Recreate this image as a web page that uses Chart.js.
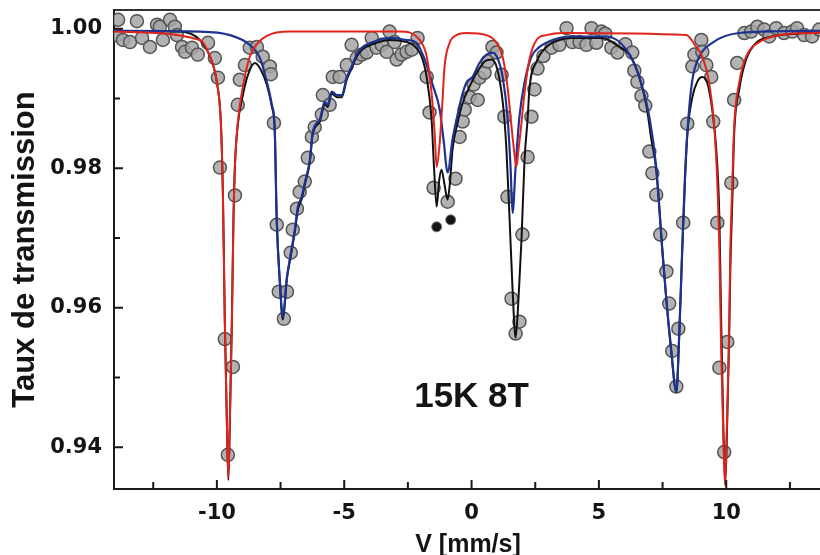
<!DOCTYPE html>
<html>
<head>
<meta charset="utf-8">
<script src="https://cdn.jsdelivr.net/npm/chart.js@4.4.0/dist/chart.umd.min.js"></script>
<style>
  html, body { margin: 0; padding: 0; background: #fff; overflow: hidden; width: 820px; height: 555px; }
  #wrap { width: 820px; height: 555px; overflow: hidden; position: relative; }
  #grafico { position: absolute; left: 0; top: 0; }
</style>
</head>
<body>
<div id="wrap"><canvas id="grafico" width="830" height="555"></canvas></div>
<script>
// Puntos experimentales (V en mm/s, taux de transmission)
const velocidad = [-13.92,-13.88,-13.69,-13.41,-13.14,-12.94,-12.63,-12.35,-12.24,-12.12,-11.84,-11.65,-11.57,-11.37,-11.25,-10.98,-10.75,-10.35,-10.08,-9.96,-9.88,-9.69,-9.57,-9.37,-9.29,-9.18,-9.10,-8.90,-8.71,-8.43,-8.20,-7.92,-7.88,-7.76,-7.65,-7.57,-7.37,-7.25,-7.10,-7.02,-6.86,-6.75,-6.55,-6.43,-6.27,-6.16,-5.88,-5.84,-5.57,-5.45,-5.18,-4.90,-4.71,-4.51,-4.31,-4.12,-3.92,-3.73,-3.53,-3.33,-3.22,-3.02,-2.94,-2.75,-2.55,-2.35,-2.12,-1.76,-1.65,-1.49,-0.94,-0.63,-0.47,-0.35,-0.27,-0.08,0.08,0.24,0.31,0.51,0.63,0.82,0.98,1.18,1.29,1.41,1.57,1.73,1.88,2.00,2.20,2.35,2.47,2.59,2.82,3.14,3.45,3.73,3.96,4.24,4.51,4.71,4.90,5.10,5.25,5.49,5.73,6.04,6.31,6.39,6.51,6.67,6.82,6.98,7.10,7.25,7.41,7.65,7.76,7.88,8.04,8.12,8.31,8.47,8.67,8.75,9.02,9.06,9.22,9.41,9.49,9.65,9.73,9.92,10.04,10.20,10.31,10.43,10.71,10.98,11.22,11.49,11.69,11.96,12.27,12.59,12.78,13.06,13.37,13.65];
const transmision = [0.9991,1.0013,0.9984,0.9981,1.0011,0.9987,0.9974,1.0006,1.0003,0.9984,1.0013,1.0003,0.9991,0.9974,0.9967,0.9973,0.9963,0.9980,0.9958,0.9930,0.9801,0.9555,0.9389,0.9515,0.9761,0.9891,0.9927,0.9948,0.9973,0.9974,0.9960,0.9946,0.9935,0.9865,0.9719,0.9623,0.9584,0.9623,0.9679,0.9712,0.9742,0.9766,0.9781,0.9815,0.9845,0.9859,0.9877,0.9905,0.9891,0.9931,0.9931,0.9948,0.9977,0.9958,0.9963,0.9966,0.9987,0.9973,0.9977,0.9967,0.9996,0.9981,0.9956,0.9963,0.9967,0.9970,0.9987,0.9931,0.9880,0.9772,0.9752,0.9785,0.9845,0.9867,0.9884,0.9902,0.9920,0.9898,0.9930,0.9937,0.9953,0.9974,0.9966,0.9934,0.9874,0.9759,0.9613,0.9563,0.9580,0.9705,0.9816,0.9874,0.9913,0.9943,0.9961,0.9973,0.9977,1.0001,0.9981,0.9981,0.9977,1.0001,0.9980,0.9996,0.9993,0.9973,0.9966,0.9978,0.9966,0.9940,0.9924,0.9904,0.9890,0.9824,0.9793,0.9762,0.9705,0.9652,0.9606,0.9538,0.9487,0.9570,0.9722,0.9864,0.9946,0.9963,0.9984,0.9967,0.9948,0.9931,0.9867,0.9722,0.9514,0.9393,0.9551,0.9779,0.9898,0.9951,0.9994,0.9996,1.0003,0.9999,0.9989,1.0001,0.9994,0.9996,1.0001,0.9991,0.9989,0.9999];

// Raies marquées (●)
const marcasV = [-1.37, -0.82];
const marcasT = [0.9716, 0.9726];

// Sous-spectre rouge
const rojoV = [-14.04,-10.67,-10.27,-10.00,-9.84,-9.76,-9.69,-9.61,-9.55,-9.49,-9.41,-9.35,-9.29,-9.18,-8.98,-8.71,-8.43,-8.04,-7.14,-2.82,-2.04,-1.76,-1.57,-1.45,-1.37,-1.25,-1.14,-1.06,-0.86,-0.59,-0.20,0.59,0.98,1.22,1.41,1.57,1.69,1.76,1.84,1.92,2.08,2.27,2.55,2.94,3.57,8.43,8.82,9.06,9.33,9.53,9.65,9.73,9.80,9.88,9.95,10.02,10.10,10.16,10.24,10.31,10.51,10.78,11.29,12.08,13.37,14.04];
const rojoT = [0.9996,0.9984,0.9960,0.9923,0.9862,0.9755,0.9583,0.9439,0.9356,0.9439,0.9583,0.9726,0.9805,0.9865,0.9917,0.9960,0.9978,0.9990,0.9996,0.9996,0.9984,0.9960,0.9908,0.9851,0.9802,0.9837,0.9898,0.9946,0.9980,0.9991,0.9994,0.9991,0.9980,0.9960,0.9917,0.9859,0.9819,0.9802,0.9826,0.9851,0.9908,0.9956,0.9984,0.9991,0.9994,0.9991,0.9974,0.9960,0.9923,0.9859,0.9779,0.9683,0.9540,0.9425,0.9346,0.9425,0.9540,0.9683,0.9779,0.9859,0.9923,0.9960,0.9981,0.9991,0.9994,0.9995];

// Sous-spectre bleu
const azulV = [-14.04,-10.67,-9.49,-8.71,-8.31,-8.04,-7.84,-7.73,-7.65,-7.53,-7.41,-7.25,-7.14,-6.94,-6.82,-6.67,-6.55,-6.35,-6.24,-5.96,-5.76,-5.65,-5.49,-5.29,-5.10,-4.90,-4.71,-4.51,-4.27,-3.88,-3.22,-2.55,-2.16,-1.84,-1.53,-1.25,-1.10,-0.94,-0.75,-0.59,-0.39,-0.20,0.04,0.31,0.59,0.82,1.02,1.22,1.41,1.53,1.61,1.73,1.88,2.08,2.35,2.67,3.18,3.84,5.29,6.08,6.59,6.98,7.25,7.49,7.65,7.84,8.04,8.16,8.27,8.39,8.51,8.67,8.94,9.45,10.51,13.37,14.04];
const azulT = [0.9997,0.9996,0.9991,0.9977,0.9958,0.9924,0.9891,0.9858,0.9726,0.9640,0.9587,0.9644,0.9669,0.9712,0.9745,0.9759,0.9779,0.9812,0.9851,0.9870,0.9895,0.9891,0.9910,0.9905,0.9905,0.9930,0.9946,0.9963,0.9974,0.9981,0.9987,0.9984,0.9980,0.9956,0.9920,0.9884,0.9841,0.9794,0.9841,0.9870,0.9902,0.9923,0.9931,0.9951,0.9963,0.9966,0.9958,0.9931,0.9874,0.9802,0.9736,0.9802,0.9874,0.9923,0.9960,0.9974,0.9984,0.9989,0.9989,0.9970,0.9931,0.9874,0.9802,0.9683,0.9611,0.9540,0.9479,0.9568,0.9683,0.9798,0.9870,0.9927,0.9960,0.9980,0.9994,0.9997,0.9997];

// Ajustement total
const totalV = [-14.04,-11.45,-10.67,-10.27,-10.00,-9.84,-9.76,-9.69,-9.61,-9.55,-9.49,-9.41,-9.35,-9.29,-9.18,-8.98,-8.78,-8.51,-8.27,-8.04,-7.84,-7.73,-7.65,-7.53,-7.41,-7.25,-7.14,-6.94,-6.82,-6.67,-6.55,-6.35,-6.24,-5.96,-5.76,-5.65,-5.49,-5.29,-5.10,-4.90,-4.71,-4.51,-4.27,-3.88,-3.22,-2.55,-2.31,-1.96,-1.76,-1.57,-1.47,-1.37,-1.27,-1.18,-1.06,-0.94,-0.84,-0.75,-0.55,-0.35,-0.08,0.20,0.51,0.78,0.98,1.18,1.29,1.37,1.49,1.61,1.73,1.84,1.96,2.08,2.20,2.27,2.55,2.94,3.45,3.96,5.14,5.80,6.20,6.59,6.86,7.06,7.25,7.49,7.65,7.84,8.04,8.16,8.27,8.39,8.47,8.67,8.86,9.06,9.25,9.45,9.61,9.73,9.80,9.88,9.96,10.04,10.12,10.16,10.24,10.31,10.51,10.78,11.18,11.80,13.14,14.04];
const totalT = [0.9997,0.9996,0.9984,0.9960,0.9923,0.9862,0.9755,0.9583,0.9439,0.9353,0.9439,0.9583,0.9726,0.9805,0.9862,0.9905,0.9934,0.9951,0.9941,0.9920,0.9888,0.9855,0.9726,0.9637,0.9583,0.9642,0.9666,0.9709,0.9740,0.9756,0.9776,0.9809,0.9848,0.9867,0.9892,0.9888,0.9907,0.9902,0.9902,0.9927,0.9943,0.9960,0.9971,0.9978,0.9984,0.9981,0.9977,0.9960,0.9930,0.9870,0.9798,0.9745,0.9783,0.9798,0.9776,0.9755,0.9783,0.9826,0.9865,0.9894,0.9917,0.9937,0.9953,0.9956,0.9946,0.9908,0.9870,0.9826,0.9730,0.9626,0.9557,0.9611,0.9697,0.9812,0.9870,0.9913,0.9953,0.9974,0.9984,0.9987,0.9987,0.9974,0.9963,0.9930,0.9891,0.9841,0.9798,0.9683,0.9611,0.9537,0.9479,0.9565,0.9680,0.9791,0.9848,0.9902,0.9924,0.9931,0.9923,0.9884,0.9826,0.9730,0.9583,0.9439,0.9346,0.9439,0.9568,0.9654,0.9755,0.9848,0.9913,0.9956,0.9980,0.9989,0.9994,0.9995];

const rangoV = [-14.04, 13.76];
const rangoT = [0.934, 1.0027];
const anotacion = "15K 8T";
const anotacionPos = [0, 0.9472];

const pares = (xs, ys) => xs.map((x, i) => ({ x: x, y: ys[i] }));

// Marcas de ejes hacia adentro + texto "15K 8T"
const marcasInternas = {
  id: "marcasInternas",
  afterDatasetsDraw(chart) {
    const { ctx, chartArea: a, scales } = chart;
    ctx.save();
    ctx.strokeStyle = "#1a1a1a";
    ctx.lineWidth = 2;
    ctx.beginPath();
    scales.x.ticks.forEach((t) => {
      const px = scales.x.getPixelForValue(t.value);
      const mayor = Math.abs(t.value / 5 - Math.round(t.value / 5)) < 1e-6;
      const l = mayor ? 9 : 7;
      ctx.moveTo(px, a.bottom);
      ctx.lineTo(px, a.bottom - l);
    });
    scales.y.ticks.forEach((t) => {
      const py = scales.y.getPixelForValue(t.value);
      const mayor = Math.round(t.value * 100) % 2 === 0;
      const l = mayor ? 9 : 6;
      ctx.moveTo(a.left, py);
      ctx.lineTo(a.left + l, py);
    });
    ctx.stroke();

    ctx.font = 'bold 35px "Liberation Sans", Arial, sans-serif';
    ctx.fillStyle = "#141414";
    ctx.textAlign = "center";
    ctx.textBaseline = "middle";
    ctx.fillText(
      anotacion,
      scales.x.getPixelForValue(anotacionPos[0]),
      scales.y.getPixelForValue(anotacionPos[1])
    );
    ctx.restore();
  },
};

const fuenteTicks = { family: '"DejaVu Sans", sans-serif', size: 21, weight: "bold" };

const ctx = document.getElementById("grafico").getContext("2d");
new Chart(ctx, {
  type: "scatter",
  data: {
    datasets: [
      {
        label: "rouge",
        data: pares(rojoV, rojoT),
        showLine: true,
        borderColor: "#e3231b",
        borderWidth: 2,
        pointRadius: 0,
        cubicInterpolationMode: "monotone",
        order: 1,
      },
      {
        label: "bleu",
        data: pares(azulV, azulT),
        showLine: true,
        borderColor: "#1c3391",
        borderWidth: 2.2,
        pointRadius: 0,
        cubicInterpolationMode: "monotone",
        order: 2,
      },
      {
        label: "total",
        data: pares(totalV, totalT),
        showLine: true,
        borderColor: "#111111",
        borderWidth: 2,
        pointRadius: 0,
        cubicInterpolationMode: "monotone",
        order: 3,
      },
      {
        label: "marques",
        data: pares(marcasV, marcasT),
        pointRadius: 5,
        backgroundColor: "#151515",
        borderColor: "#777",
        borderWidth: 1,
        order: 4,
      },
      {
        label: "mesure",
        data: pares(velocidad, transmision),
        pointRadius: 6.5,
        backgroundColor: "rgba(165,165,165,0.85)",
        borderColor: "#555",
        borderWidth: 1.5,
        order: 5,
      },
    ],
  },
  options: {
    responsive: false,
    animation: false,
    devicePixelRatio: 1,
    layout: { padding: { top: 10, right: 1, bottom: 0, left: 0 } },
    plugins: { legend: { display: false }, tooltip: { enabled: false } },
    scales: {
      x: {
        type: "linear",
        position: "bottom",
        min: rangoV[0],
        max: rangoV[1],
        afterFit: (s) => {
          s.height = 66;
          s.paddingLeft = 0;
          s.paddingRight = 0;
        },
        grid: { display: false, drawTicks: false },
        border: { display: true, color: "#1a1a1a", width: 2 },
        ticks: {
          stepSize: 2.5,
          includeBounds: false,
          maxRotation: 0,
          autoSkip: false,
          padding: 12,
          color: "#141414",
          font: fuenteTicks,
          callback: (v) => (Math.abs(v / 5 - Math.round(v / 5)) < 1e-6 ? String(Math.round(v)) : ""),
        },
        title: {
          display: true,
          text: "V [mm/s]",
          color: "#141414",
          font: { family: '"Liberation Sans", Arial, sans-serif', size: 25, weight: "bold", lineHeight: 0.8 },
          padding: { top: 0, bottom: 0 },
        },
      },
      x2: {
        type: "linear",
        position: "top",
        min: rangoV[0],
        max: rangoV[1],
        afterFit: (s) => {
          s.height = 0;
          s.paddingLeft = 0;
          s.paddingRight = 0;
        },
        grid: { display: false, drawTicks: false },
        border: { display: true, color: "#333", width: 2 },
        ticks: { display: false },
      },
      y: {
        type: "linear",
        min: rangoT[0],
        max: rangoT[1],
        afterFit: (s) => {
          s.width = 114;
          s.paddingTop = 0;
          s.paddingBottom = 0;
        },
        grid: { display: false, drawTicks: false },
        border: { display: true, color: "#1a1a1a", width: 2 },
        ticks: {
          stepSize: 0.01,
          includeBounds: false,
          autoSkip: false,
          padding: 12,
          color: "#141414",
          font: fuenteTicks,
          callback: (v) => {
            const r = Math.round(v * 100);
            return r % 2 === 0 ? (r / 100).toFixed(2) : "";
          },
        },
        title: {
          display: true,
          text: "Taux de transmission",
          color: "#141414",
          font: { family: '"Liberation Sans", Arial, sans-serif', size: 31, weight: "bold" },
          padding: { top: 7, bottom: 7 },
        },
      },
    },
  },
  plugins: [marcasInternas],
});
</script>
</body>
</html>
